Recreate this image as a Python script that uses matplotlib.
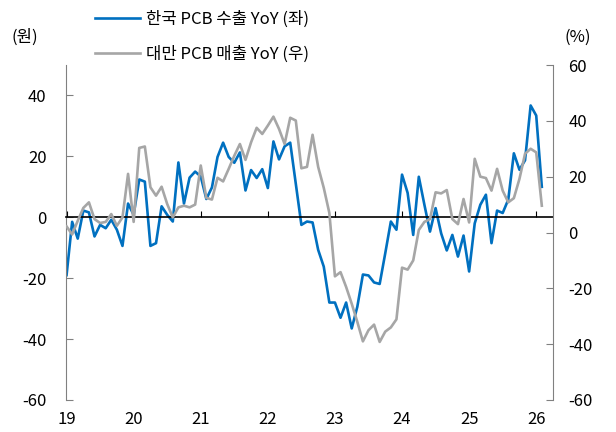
import numpy as np
import matplotlib
matplotlib.use("Agg")
import matplotlib.pyplot as plt

plt.rcParams['font.family'] = ['Noto Sans CJK KR', 'DejaVu Sans']
plt.rcParams['axes.unicode_minus'] = False

# monthly YoY, Jan 2019 - Feb 2026
korea_pcb_export = [
    -19, -1.5, -7, 2.2, 1.6, -6.3, -2.5, -3.6, -0.8, -4.1, -9.4, 4.5,
    0.8, 12.4, 11.7, -9.4, -8.5, 3.6, 0.8, -1.4, 18, 4.5, 13, 15,
    13.4, 6, 9.8, 19.8, 24.5, 19.8, 17.9, 21.3, 8.8, 15.5, 12.9, 15.8,
    9.6, 24.9, 19, 23.3, 24.5, 11, -2.5, -1.4, -1.7, -10.7, -16.2, -28,
    -28, -33, -28, -36.5, -29.4, -18.8, -19.1, -21.4, -21.9, -11.8, -1.4, -4.1,
    14, 8, -5.8, 13.3, 4.1, -4.7, 3, -5.3, -10.9, -5.8, -12.9, -6,
    -17.8, -2, 4.1, 7.4, -8.5, 2.2, 1.4, 5.8, 21, 15.6, 18.7, 36.7,
    33.4, 10,
]
taiwan_pcb_sales = [
    2.2, -0.7, 4.2, 8.8, 10.8, 4.8, 3.4, 3.8, 6.6, 2.4, 5.4, 21,
    3.8, 30.3, 30.8, 16.2, 13.2, 16.4, 10.2, 5.4, 9, 9.6, 9, 10,
    24, 12.4, 11.8, 19.6, 18.3, 22.8, 27.5, 31.7, 26, 32.3, 37.5, 35.3,
    38.3, 41.5, 37.1, 31.7, 41.1, 40.1, 23, 23.5, 35, 23.5, 16, 7,
    -15.7, -14.2, -19.5, -25.5, -32, -39, -35, -33, -39.2, -35.5, -34, -31.1,
    -12.6, -13.3, -10, 0.9, 3.8, 4.8, 14.4, 14, 15.2, 4.8, 3, 12,
    3.6, 26.4, 20, 19.5, 15, 22.8, 15, 10.8, 12.3, 19.2, 28.2, 30,
    28.7, 9.6,
]
year_labels = ['19', '20', '21', '22', '23', '24', '25', '26']
left_ticks = [-60, -40, -20, 0, 20, 40]
right_ticks = [-60, -40, -20, 0, 20, 40, 60]

blue = '#0070C0'
gray = '#A6A6A6'
spine_gray = '#808080'
fs = 12

fig = plt.figure(figsize=(6.16, 4.32), dpi=100)
ax = fig.add_axes([66 / 616, 1 - 400 / 432, (553 - 66) / 616, (400 - 65) / 432])
ax2 = ax.twinx()

x = np.arange(len(korea_pcb_export))
ax.plot(x, korea_pcb_export, color=blue, lw=1.9, label='한국 PCB 수출 YoY (좌)')
ax2.plot(x, taiwan_pcb_sales, color=gray, lw=1.9, label='대만 PCB 매출 YoY (우)')

ax.set_xlim(-0.1, 87)
ax.set_ylim(-60, 50)
ax2.set_ylim(-60, 60)
ax.set_yticks(left_ticks)
ax2.set_yticks(right_ticks)

# spines
ax.spines['top'].set_visible(False)
ax.spines['right'].set_visible(False)
ax.spines['left'].set_color(spine_gray)
ax.spines['bottom'].set_position(('data', 0))
ax.spines['bottom'].set_color('black')
ax.spines['bottom'].set_linewidth(1.2)
for s in ['top', 'bottom', 'left']:
    ax2.spines[s].set_visible(False)
ax2.spines['right'].set_color(spine_gray)

year_pos = [12 * i for i in range(len(year_labels))]
ax.set_xticks(year_pos)
ax.set_xticklabels([])
ax.tick_params(axis='x', direction='in', length=4, color='black')
ax.tick_params(axis='y', direction='in', length=5, color=spine_gray,
               labelsize=fs, pad=14)
ax2.tick_params(axis='y', direction='in', length=5, color=spine_gray,
                labelsize=fs, pad=11)

sec = ax.secondary_xaxis('bottom')
sec.set_xticks(year_pos)
sec.set_xticklabels(year_labels)
sec.spines['bottom'].set_visible(False)
sec.tick_params(length=0, labelsize=fs, pad=8)

fig.text(25 / 616, 1 - 37 / 432, '(원)', ha='center', va='center', fontsize=fs)
fig.text(578 / 616, 1 - 37 / 432, '(%)', ha='center', va='center', fontsize=fs)

h1, l1 = ax.get_legend_handles_labels()
h2, l2 = ax2.get_legend_handles_labels()
fig.legend(h1 + h2, l1 + l2, loc='upper left', bbox_to_anchor=(95 / 616, 1 - 11 / 432),
           frameon=False, fontsize=fs, borderpad=0, borderaxespad=0,
           handlelength=2.7, handletextpad=0.35, labelspacing=1.05)

fig.savefig('out.png', dpi=100)
